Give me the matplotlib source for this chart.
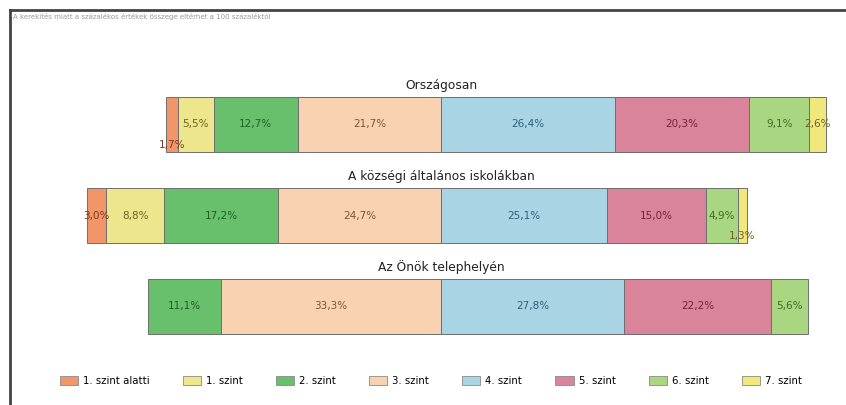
import numpy as np
import matplotlib
matplotlib.use("Agg")
import matplotlib.pyplot as plt
from matplotlib.lines import Line2D
from matplotlib.patches import Patch

groups = ['Országosan', 'A községi általános iskolákban', 'Az Önök telephelyén']
levels = ['1. szint alatti', '1. szint', '2. szint', '3. szint',
          '4. szint', '5. szint', '6. szint', '7. szint']

orszagos = [1.7, 5.5, 12.7, 21.7, 26.4, 20.3, 9.1, 2.6]
kozsegi = [3.0, 8.8, 17.2, 24.7, 25.1, 15.0, 4.9, 1.3]
telephely = [0.0, 0.0, 11.1, 33.3, 27.8, 22.2, 5.6, 0.0]

note = 'A kerekítés miatt a százalékos értékek összege eltérhet a 100 százaléktól'

colors = ['#f2966a', '#ede68c', '#68bf6c', '#f9d2b2',
          '#a9d4e3', '#d9849a', '#a9d680', '#f0e87c']
text_colors = ['#7a3b1a', '#6b6420', '#1f5f22', '#7a5533',
               '#2e5f75', '#7a1f38', '#3f6b1f', '#6b6420']

data = np.array([orszagos, kozsegi, telephely])

W, H = 846, 405
fig = plt.figure(figsize=(W / 100, H / 100), dpi=100)

# pixel geometry of the plotting area
px_left, px_right, px_top, px_bot = 20, 840, 60, 345
ax = fig.add_axes([px_left / W, 1 - px_bot / H,
                   (px_right - px_left) / W, (px_bot - px_top) / H])

center_px, per_pct = 441, 6.6
row_px = 91
ax.set_xlim((px_left - center_px) / per_pct, (px_right - center_px) / per_pct)
ax.set_ylim((px_bot - 124.5) / row_px, -(124.5 - px_top) / row_px)
ax.axis('off')

bar_h = 0.6
for i, (name, row) in enumerate(zip(groups, data)):
    left = -row[:4].sum()
    for j, v in enumerate(row):
        if v <= 0:
            continue
        ax.barh(i, v, left=left, height=bar_h, color=colors[j],
                edgecolor='#6e6e6e', linewidth=0.7)
        lab = f"{v:.1f}".replace('.', ',') + '%'
        if v < 2:
            ax.text(left + v / 2, i + 0.23, lab, ha='center', va='center',
                    fontsize=7.5, color=text_colors[j])
        else:
            ax.text(left + v / 2, i, lab, ha='center', va='center',
                    fontsize=7.5, color=text_colors[j])
        left += v
    ax.text(0, i - 0.43, name, ha='center', va='center', fontsize=8.8,
            color='#222222')

handles = [Patch(facecolor=c, edgecolor='#8a8a8a', linewidth=0.6) for c in colors]
fig.legend(handles, levels, loc='center', bbox_to_anchor=(431 / W, 1 - 381 / H),
           ncol=8, frameon=False, fontsize=7.3, handlelength=1.8,
           handleheight=1.0, columnspacing=3.25, handletextpad=0.5)

fig.text(13 / W, 1 - 17 / H, note, fontsize=5, color='#9a9a9a', va='center')

# frame lines
fig.add_artist(Line2D([10 / W, 1], [1 - 10 / H, 1 - 10 / H], color='#444444', lw=2))
fig.add_artist(Line2D([10 / W, 10 / W], [0, 1 - 10 / H], color='#444444', lw=2))

fig.savefig('out.png', dpi=100)
